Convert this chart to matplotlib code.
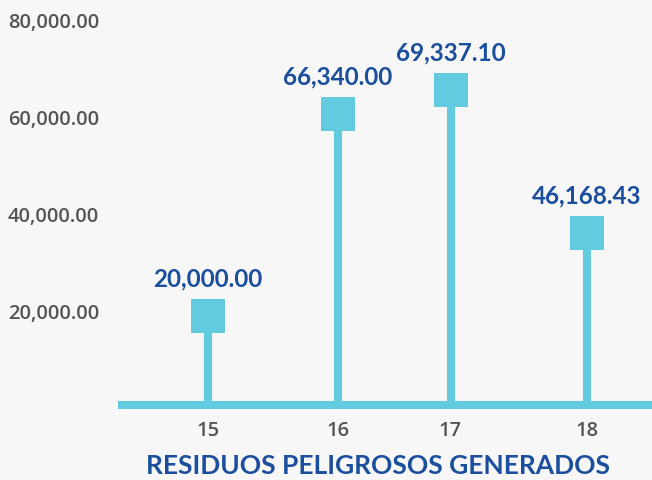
import matplotlib.pyplot as plt


# data
years = ['15', '16', '17', '18']
x_pos = [0.0, 1.03, 1.92, 3.0]          # stems are not evenly spaced in the original
labels_val = [20000.00, 66340.00, 69337.10, 46168.43]
marker_height = [18300, 60000, 65000, 35400]   # where the squares are actually drawn
y_ticks = [20000, 40000, 60000, 80000]

title = 'RESIDUOS PELIGROSOS GENERADOS'

bg = '#f7f7f7'
stem_col = '#62cbe0'
blue = '#1b4f9e'
gray = '#555555'

fig = plt.figure(figsize=(6.52, 4.81), dpi=100)
fig.patch.set_facecolor(bg)
ax = fig.add_axes([0, 0, 1, 1])
ax.set_facecolor(bg)
ax.set_xlim(-1.646, 3.515)
ax.set_ylim(-15464, 83711)
ax.axis('off')

# baseline
ax.plot([-0.712, 3.515], [0, 0], color=stem_col, linewidth=5.8, solid_capstyle='butt', zorder=2)

# stems + squares
for x, h in zip(x_pos, marker_height):
    ax.plot([x, x], [0, h], color=stem_col, linewidth=5.8, solid_capstyle='butt', zorder=2)
ax.scatter(x_pos, marker_height, marker='s', s=580, color=stem_col, linewidths=0, zorder=3)

# value labels
for x, h, v in zip(x_pos, marker_height, labels_val):
    ax.annotate(f'{v:,.2f}', (x, h), xytext=(0, 27.5), textcoords='offset points',
                ha='center', va='center', color=blue, fontsize=17.5,
                fontweight='bold', family='Lato')

# y tick labels (sit a few px below the value in the original)
for t in y_ticks:
    ax.annotate(f'{t:,.2f}', (0.012, t), xycoords=ax.get_yaxis_transform(),
                xytext=(0, -3.5), textcoords='offset points',
                ha='left', va='center', color=gray, fontsize=14.5,
                fontweight='semibold', family='Open Sans')

# x tick labels
for x, yr in zip(x_pos, years):
    ax.text(x, 1 - 431 / 481, yr, transform=ax.get_xaxis_transform(),
            ha='center', va='center', color=gray, fontsize=14.5,
            fontweight='semibold', family='Open Sans')

ax.text(0.5 * (146 + 610) / 652, 1 - 466 / 481, title, transform=ax.transAxes,
        ha='center', va='center', color=blue, fontsize=19,
        fontweight='bold', family='Lato')

plt.savefig('out.png', dpi=100, facecolor=bg)
plt.close()
